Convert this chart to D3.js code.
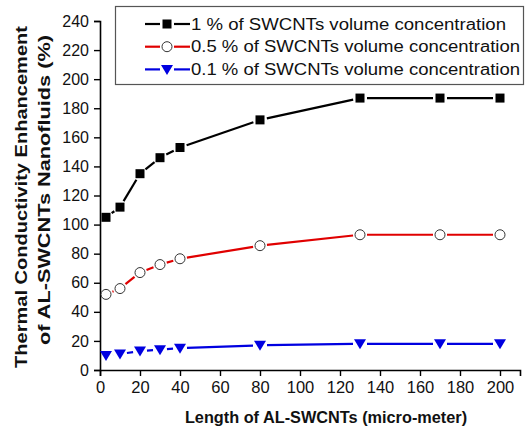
<!DOCTYPE html>
<html>
<head>
<meta charset="utf-8">
<script src="https://cdn.jsdelivr.net/npm/d3@7"></script>
<style>
  body { margin: 0; background: #fff; }
  text { font-family: "Liberation Sans", Arial, sans-serif; }
</style>
</head>
<body>
<div id="chart"></div>
<script>
const lengths = [3, 10, 20, 30, 40, 80, 130, 170, 200];
const conc1 = [105, 112, 135, 146, 153, 172, 187, 187, 187];
const conc05 = [52, 56, 67, 72.5, 76.5, 85.5, 93, 93, 93];
const conc01 = [10, 11, 13, 14, 15, 17, 18, 18, 18];
const seriesNames = [
  "1 % of SWCNTs volume concentration",
  "0.5 % of SWCNTs volume concentration",
  "0.1 % of SWCNTs volume concentration"
];
const xTicks = [0, 20, 40, 60, 80, 100, 120, 140, 160, 180, 200];
const yTicks = [0, 20, 40, 60, 80, 100, 120, 140, 160, 180, 200, 220, 240];

const width = 526, height = 434;

const svg = d3.select("#chart").append("svg")
  .attr("width", width)
  .attr("height", height);

const x = d3.scaleLinear().domain([0, 210]).range([100, 520]);
const y = d3.scaleLinear().domain([0, 240]).range([370, 21]);

const series = [
  { name: seriesNames[0], values: conc1, color: "#000", symbol: "square", len: 315 },
  { name: seriesNames[1], values: conc05, color: "#e00000", symbol: "circle", len: 329 },
  { name: seriesNames[2], values: conc01, color: "#0000e0", symbol: "triangle", len: 329 }
];

// x axis, minor ticks first
const xAxisG = svg.append("g").attr("transform", `translate(0,${y(0)})`);
xAxisG.call(d3.axisBottom(x).tickValues(d3.range(10, 210, 20)).tickSize(3).tickFormat(""));
xAxisG.call(d3.axisBottom(x).tickValues(xTicks).tickSize(6).tickPadding(5));
xAxisG.selectAll(".domain").attr("stroke-width", 1.6);
xAxisG.selectAll(".tick line").attr("stroke-width", 1.4);
xAxisG.selectAll("text").style("font-size", "16.5px").attr("fill", "#111");

const yAxisG = svg.append("g").attr("transform", `translate(${x(0)},0)`);
yAxisG.call(d3.axisLeft(y).tickValues(d3.range(10, 240, 20)).tickSize(3).tickFormat(""));
yAxisG.call(d3.axisLeft(y).tickValues(yTicks).tickSize(6).tickPadding(5));
yAxisG.selectAll(".domain").attr("stroke-width", 1.6);
yAxisG.selectAll(".tick line").attr("stroke-width", 1.4);
yAxisG.selectAll("text").style("font-size", "16px").attr("fill", "#111");

// symbols
function drawSymbol(g, type, cx, cy, color) {
  if (type === "square") {
    g.append("rect").attr("x", cx - 4.5).attr("y", cy - 4.5)
      .attr("width", 9).attr("height", 9).attr("fill", color);
  } else if (type === "circle") {
    g.append("circle").attr("cx", cx).attr("cy", cy).attr("r", 5)
      .attr("fill", "#fff").attr("stroke", "#333").attr("stroke-width", 1);
  } else {
    g.append("path")
      .attr("d", `M${cx - 6},${cy - 4.5}L${cx + 6},${cy - 4.5}L${cx},${cy + 5.5}Z`)
      .attr("fill", color);
  }
}

// origin-style lines that stop short of each symbol
const gap = 7;
function gappedSegments(pts) {
  const segs = [];
  for (let i = 0; i < pts.length - 1; i++) {
    const [x1, y1] = pts[i], [x2, y2] = pts[i + 1];
    const dx = x2 - x1, dy = y2 - y1, len = Math.hypot(dx, dy);
    if (len <= 2 * gap) continue;
    const ux = dx / len, uy = dy / len;
    segs.push([x1 + ux * gap, y1 + uy * gap, x2 - ux * gap, y2 - uy * gap]);
  }
  return segs;
}

series.forEach(s => {
  const g = svg.append("g");
  const pts = lengths.map((l, i) => [x(l), y(s.values[i])]);
  g.selectAll("line").data(gappedSegments(pts)).join("line")
    .attr("x1", d => d[0]).attr("y1", d => d[1])
    .attr("x2", d => d[2]).attr("y2", d => d[3])
    .attr("stroke", s.color).attr("stroke-width", 2.2);
  pts.forEach(p => drawSymbol(g, s.symbol, p[0], p[1], s.color));
});

// legend
const legend = svg.append("g");
legend.append("rect").attr("x", 115.5).attr("y", 6.5).attr("width", 408).attr("height", 78)
  .attr("fill", "#fff").attr("stroke", "#555").attr("stroke-width", 1.2);
series.forEach((s, i) => {
  const cy = 24 + i * 22.7;
  const g = legend.append("g");
  g.append("line").attr("x1", 145).attr("x2", 160).attr("y1", cy).attr("y2", cy)
    .attr("stroke", s.color).attr("stroke-width", 2.2);
  g.append("line").attr("x1", 174).attr("x2", 190).attr("y1", cy).attr("y2", cy)
    .attr("stroke", s.color).attr("stroke-width", 2.2);
  drawSymbol(g, s.symbol, 167, cy, s.color);
  g.append("text").attr("x", 191).attr("y", cy + 5.5)
    .attr("textLength", s.len).attr("lengthAdjust", "spacingAndGlyphs")
    .style("font-size", "16px").attr("fill", "#111").text(s.name);
});

// axis titles
svg.append("text")
  .attr("x", 326).attr("y", 423)
  .attr("text-anchor", "middle")
  .style("font-size", "16.3px").style("font-weight", "bold").attr("fill", "#111")
  .text("Length of AL-SWCNTs (micro-meter)");

svg.append("text")
  .attr("transform", "translate(27,197) rotate(-90)")
  .attr("text-anchor", "middle")
  .attr("textLength", 342).attr("lengthAdjust", "spacingAndGlyphs")
  .style("font-size", "17px").style("font-weight", "bold").attr("fill", "#111")
  .text("Thermal Conductivity Enhancement");
svg.append("text")
  .attr("transform", "translate(50,190) rotate(-90)")
  .attr("text-anchor", "middle")
  .attr("textLength", 310).attr("lengthAdjust", "spacingAndGlyphs")
  .style("font-size", "17px").style("font-weight", "bold").attr("fill", "#111")
  .text("of AL-SWCNTs Nanofluids (%)");
</script>
</body>
</html>
